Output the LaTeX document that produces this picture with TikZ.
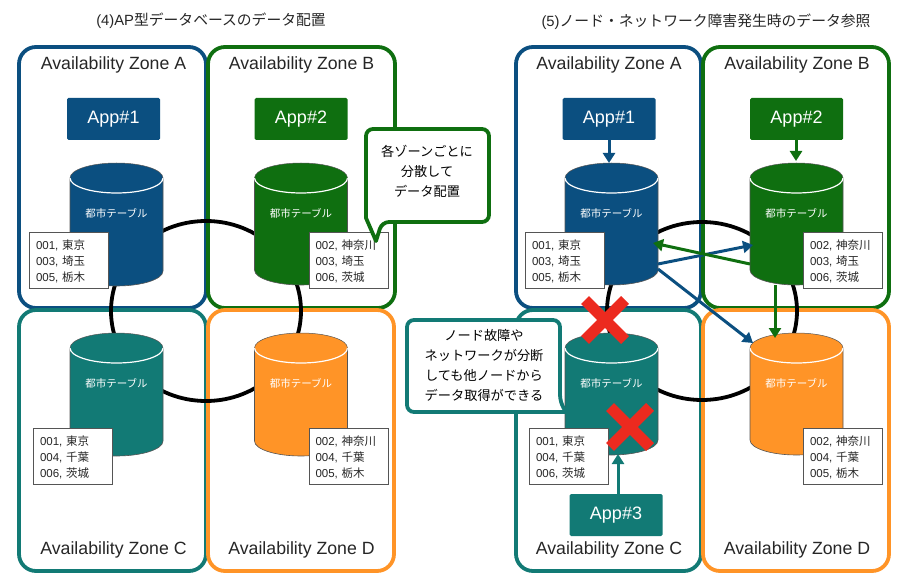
\documentclass[tikz,border=0pt]{standalone}
\usepackage{fontspec}
\setmainfont{Liberation Sans}
\newfontfamily\cjk{Noto Sans CJK JP}
\usetikzlibrary{arrows.meta}
\definecolor{cblue}{HTML}{0B4F80}
\definecolor{cgreen}{HTML}{0F6F10}
\definecolor{cteal}{HTML}{127A75}
\definecolor{corange}{HTML}{FF9427}
\definecolor{cred}{HTML}{EC2A1F}
\definecolor{cedge}{HTML}{555555}
\tikzset{
  zone/.style={draw=#1,line width=3.8pt,rounded corners=17pt,fill=none},
  zonelabel/.style={font=\fontsize{17.7}{18}\selectfont,text=black!85,inner sep=0pt},
  ring/.style={draw=black,line width=3.8pt},
  appbox/.style={fill=#1,rounded corners=1.5pt,text=white,minimum width=93pt,minimum height=42pt,inner sep=0pt,font=\fontsize{18}{18}\selectfont},
  databox/.style={draw=cedge,fill=white,line width=0.8pt,text width=66pt,minimum height=56pt,inner xsep=6.5pt,inner ysep=0pt,align=left,font=\fontsize{11.5}{16}\selectfont,text=black!85},
  cyllabel/.style={text=white,inner sep=0pt,font=\cjk\fontsize{10.5}{12}\selectfont},
  title/.style={inner sep=0pt,font=\fontsize{14.8}{15}\selectfont,text=black!85},
  calloutline/.style={draw=#1,line width=3.8pt,fill=white,rounded corners=7pt,line join=round},
  callouttext/.style={inner sep=0pt,align=center,font=\cjk\fontsize{13.2}{20}\selectfont,text=black},
  arrowline/.style={draw=#1,line width=3pt,-{Triangle[length=10pt,width=12pt]}},
  crossline/.style={draw=cred,line width=11pt},
}
\newcommand{\fl}{\rule{0pt}{13pt}}
% name, left x, top y, bottom y, colour
\newcommand{\dbcyl}[5]{%
  \fill[#5] (#2,#3+15) arc[x radius=46.5,y radius=15,start angle=180,end angle=360]
    -- (#2+93,#4-15) arc[x radius=46.5,y radius=15,start angle=0,end angle=180] -- cycle;
  \draw[cedge,line width=0.6pt] (#2,#3+15) -- (#2,#4-15) arc[x radius=46.5,y radius=15,start angle=180,end angle=0] -- (#2+93,#3+15);
  \draw[white,line width=1.2pt] (#2,#3+15) arc[x radius=46.5,y radius=15,start angle=180,end angle=0];
  \draw[cedge,line width=0.5pt] (#2,#3+15) arc[x radius=46.5,y radius=15,start angle=180,end angle=360];
  \node[cyllabel] (#1) at (#2+46.5,#3+50) {都市テーブル};
}
\begin{document}
\begin{tikzpicture}[x=1pt,y=-1pt]
\useasboundingbox (0,0) rectangle (907,588);
% ---- left panel
\node[title] (t4) at (211,20.5) {(4)AP{\cjk 型データベースのデータ配置}};
\draw[zone=cblue] (19,47) rectangle (206,308);
\draw[zone=cteal] (19,310) rectangle (206,571);
\draw[zone=cgreen] (208,47) rectangle (395,308);
\draw[zone=corange] (208,310) rectangle (394,571);
\node[zonelabel] (lza) at (113.5,64.5) {Availability Zone A};
\node[zonelabel] (lzb) at (301.5,64.5) {Availability Zone B};
\node[zonelabel] (lzc) at (113.5,549.5) {Availability Zone C};
\node[zonelabel] (lzd) at (301.5,549.5) {Availability Zone D};
\draw[ring] (206,311) ellipse[x radius=95,y radius=90];
\node[appbox=cblue] (la1) at (113.5,119) {\raisebox{1pt}{App\#1}};
\node[appbox=cgreen] (la2) at (301,119) {\raisebox{1pt}{App\#2}};
\dbcyl{lca}{70}{163}{286}{cblue}
\dbcyl{lcb}{254.5}{163}{285}{cgreen}
\dbcyl{lcc}{70}{333}{456}{cteal}
\dbcyl{lcd}{254.5}{333}{456}{corange}
\node[databox] (lda) at (69,260) {\fl 001, {\cjk 東京}\\003, {\cjk 埼玉}\\005, {\cjk 栃木}};
\node[databox] (ldb) at (348.5,260) {\fl 002, {\cjk 神奈川}\\003, {\cjk 埼玉}\\006, {\cjk 茨城}};
\node[databox] (ldc) at (73,456) {\fl 001, {\cjk 東京}\\004, {\cjk 千葉}\\006, {\cjk 茨城}};
\node[databox] (ldd) at (348.5,456) {\fl 002, {\cjk 神奈川}\\004, {\cjk 千葉}\\005, {\cjk 栃木}};
\draw[calloutline=cgreen] (366,129) -- (489,129) -- (489,222) -- (382,222) [sharp corners] -- (376,241) -- (366,218) [rounded corners=7pt] -- cycle;
\node[callouttext] (lct) at (427,171) {各ゾーンごとに\\分散して\\データ配置};
% ---- right panel
\node[title] (t5) at (706,21.5) {(5){\cjk ノード・ネットワーク障害発生時のデータ参照}};
\draw[zone=cblue] (516,47) rectangle (701,308);
\draw[zone=cteal] (516,310) rectangle (701,571);
\draw[zone=cgreen] (703,47) rectangle (889,308);
\draw[zone=corange] (703,310) rectangle (889,571);
\node[zonelabel] (rza) at (609,64.5) {Availability Zone A};
\node[zonelabel] (rzb) at (797,64.5) {Availability Zone B};
\node[zonelabel] (rzc) at (609,549.5) {Availability Zone C};
\node[zonelabel] (rzd) at (797,549.5) {Availability Zone D};
\draw[ring] (702,311) ellipse[x radius=95,y radius=89];
\node[appbox=cblue] (ra1) at (609,119) {\raisebox{1pt}{App\#1}};
\node[appbox=cgreen] (ra2) at (796.5,119) {\raisebox{1pt}{App\#2}};
\node[appbox=cteal] (ra3) at (616,515) {\raisebox{1pt}{App\#3}};
\dbcyl{rca}{565}{163}{285}{cblue}
\dbcyl{rcb}{750}{163}{285}{cgreen}
\dbcyl{rcc}{565}{333}{455}{cteal}
\dbcyl{rcd}{750}{333}{455}{corange}
\node[databox] (rda) at (565,260) {\fl 001, {\cjk 東京}\\003, {\cjk 埼玉}\\005, {\cjk 栃木}};
\node[databox] (rdb) at (843,260) {\fl 002, {\cjk 神奈川}\\003, {\cjk 埼玉}\\006, {\cjk 茨城}};
\node[databox] (rdc) at (569,456) {\fl 001, {\cjk 東京}\\004, {\cjk 千葉}\\006, {\cjk 茨城}};
\node[databox] (rdd) at (843,456) {\fl 002, {\cjk 神奈川}\\004, {\cjk 千葉}\\005, {\cjk 栃木}};
% connector ends on the cylinders
\coordinate (a1top) at (609,163);
\coordinate (a2top) at (796,161);
\coordinate (a3bot) at (618,454);
\coordinate (aR1) at (658,264);
\coordinate (aR2) at (658,269);
\coordinate (aRin) at (653,243);
\coordinate (bL1) at (753,245);
\coordinate (bL2) at (750,264);
\coordinate (bB) at (775,285);
\coordinate (dT1) at (775,338);
\coordinate (dT2) at (753,343);
\draw[arrowline=cblue] (ra1.south -| a1top) -- (a1top);
\draw[arrowline=cgreen] (ra2.south -| a2top) -- (a2top);
\draw[arrowline=cteal] (ra3.north -| a3bot) -- (a3bot);
\draw[arrowline=cblue] (aR1) -- (bL1);
\draw[arrowline=cgreen] (bL2) -- (aRin);
\draw[arrowline=cblue] (aR2) -- (dT2);
\draw[arrowline=cgreen] (bB) -- (dT1);
% callout
\draw[calloutline=cteal] (407,320) -- (560,320) -- (560,402) [sharp corners] -- (566,412) -- (550,412) [rounded corners=7pt] -- (407,412) -- cycle;
\node[callouttext] (rct) at (484,365.5) {ノード故障や\\ネットワークが分断\\しても他ノードから\\データ取得ができる};
% crosses
\draw[crossline] (585,300) -- (625,340);
\draw[crossline] (585,340) -- (625,300);
\draw[crossline] (610,407) -- (650,447);
\draw[crossline] (610,447) -- (650,407);
\end{tikzpicture}
\end{document}
